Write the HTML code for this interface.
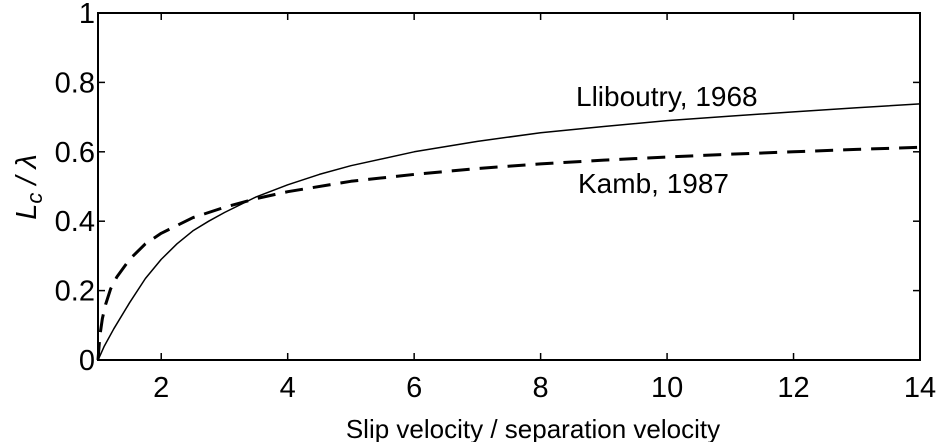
<!DOCTYPE html>
<html><head><meta charset="utf-8"><style>
html,body{margin:0;padding:0;background:#fff;}
svg{display:block;font-family:"Liberation Sans",sans-serif;}
</style></head><body>
<svg id="chart" width="940" height="442" viewBox="0 0 940 442"></svg>
<script>
const xTicks=[2,4,6,8,10,12,14];
const yTicks=[0,0.2,0.4,0.6,0.8,1];
const yTickLabels=["0","0.2","0.4","0.6","0.8","1"];
const lliboutryX=[1,1.05,1.1,1.25,1.5,1.75,2,2.25,2.5,2.75,3,3.5,4,4.5,5,6,7,8,9,10,11,12,13,14];
const lliboutryY=[0,0.02,0.04,0.09,0.165,0.235,0.29,0.335,0.372,0.4,0.425,0.47,0.505,0.535,0.56,0.60,0.63,0.655,0.673,0.69,0.703,0.715,0.727,0.738];
const kambX=[1,1.03,1.07,1.12,1.2,1.3,1.5,1.75,2,2.5,3,3.5,4,5,6,7,8,9,10,11,12,13,14];
const kambY=[0,0.07,0.12,0.16,0.205,0.24,0.29,0.335,0.365,0.41,0.44,0.465,0.485,0.515,0.535,0.552,0.565,0.576,0.585,0.593,0.60,0.607,0.613];
const NS="http://www.w3.org/2000/svg";
const svg=document.getElementById('chart');
const L=98,R=920,T=13,B=360;
const xs=v=>L+(v-1)/(14-1)*(R-L);
const ys=v=>B-v*(B-T);
function mk(tag,attrs,parent){const e=document.createElementNS(NS,tag);for(const k in attrs)e.setAttribute(k,attrs[k]);(parent||svg).appendChild(e);return e;}
const frame=mk('rect',{x:L,y:T,width:R-L,height:B-T,fill:'none',stroke:'#000','stroke-width':2});


xTicks.forEach(v=>{
  const x=xs(v);
  const t1=mk('line',{x1:x,x2:x,y1:B,y2:B-7,stroke:'#000','stroke-width':1.5});
  
  
  const t2=mk('line',{x1:x,x2:x,y1:T,y2:T+7,stroke:'#000','stroke-width':1.5});
  
  
  const lb=mk('text',{x:x,y:B+37,'text-anchor':'middle','font-size':29});
  lb.textContent=String(v);
  
  
});
yTicks.forEach((v,i)=>{
  const y=ys(v);
  const t1=mk('line',{x1:L,x2:L+7,y1:y,y2:y,stroke:'#000','stroke-width':1.5});
  
  
  const t2=mk('line',{x1:R,x2:R-7,y1:y,y2:y,stroke:'#000','stroke-width':1.5});
  
  
  const lb=mk('text',{x:L-3,y:y+10,'text-anchor':'end','font-size':29});
  lb.textContent=yTickLabels[i];
  
  
});
function path(xa,ya){return xa.map((x,i)=>(i?'L':'M')+xs(x).toFixed(1)+','+ys(ya[i]).toFixed(1)).join(' ');}
const l1=mk('path',{d:path(lliboutryX,lliboutryY),fill:'none',stroke:'#000','stroke-width':1.5,'stroke-linejoin':'round'});


const l2=mk('path',{d:path(kambX,kambY),fill:'none',stroke:'#000','stroke-width':3,'stroke-dasharray':'18,10','stroke-linejoin':'round'});


</script>
<svg width="940" height="442" style="position:absolute;left:0;top:0">
<text x="576" y="106" font-size="28" font-family="'Liberation Sans',sans-serif">Lliboutry, 1968</text>
<text x="578" y="193" font-size="28" font-family="'Liberation Sans',sans-serif">Kamb, 1987</text>
<text x="533" y="438" text-anchor="middle" font-size="26" font-family="'Liberation Sans',sans-serif">Slip velocity / separation velocity</text>
<text transform="translate(36,187) rotate(-90)" text-anchor="middle" font-size="29" font-style="italic" font-family="'Liberation Sans',sans-serif">L<tspan font-size="22" dy="6">c</tspan><tspan dy="-6"> / λ</tspan></text>
</svg>
</body></html>
